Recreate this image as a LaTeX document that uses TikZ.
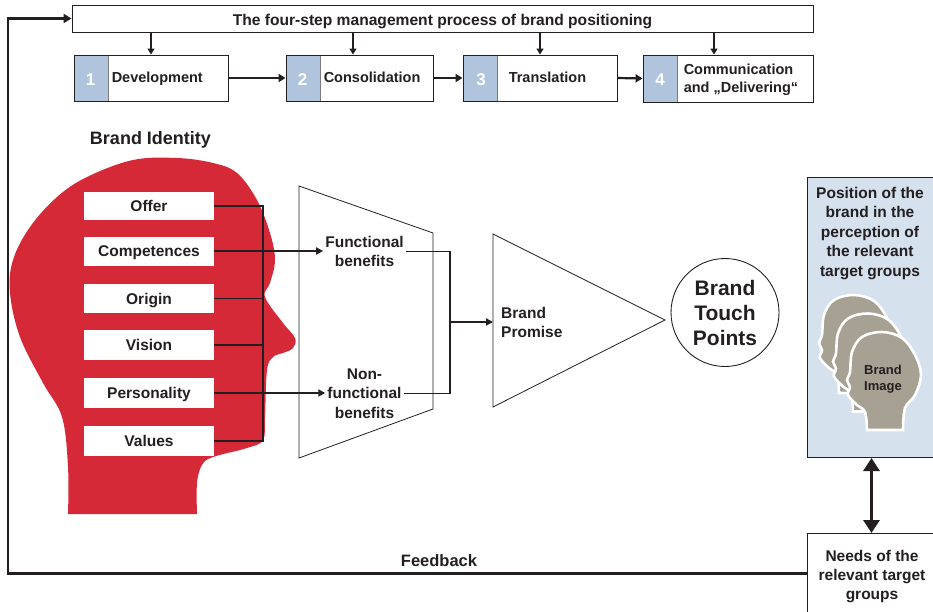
\documentclass[tikz,border=0pt]{standalone}
\usepackage{fontspec}
\setmainfont{Liberation Sans}
\usetikzlibrary{arrows.meta,calc}

\definecolor{ink}{RGB}{35,31,32}
\definecolor{headred}{RGB}{214,41,56}
\definecolor{stepblue}{RGB}{176,196,222}
\definecolor{panelblue}{RGB}{214,225,238}
\definecolor{headgrey}{RGB}{166,161,146}

\begin{document}
\begin{tikzpicture}[x=1pt,y=-1pt,
  every node/.style={text=ink},
  lbl/.style={font=\fontsize{15.5}{19}\selectfont\bfseries, align=center, inner sep=2pt},
  frame/.style={draw=ink, line width=0.9pt},
  thinframe/.style={draw=ink, line width=0.8pt},
  stepbox/.style={draw=ink, line width=0.9pt, fill=white, minimum height=46pt,
    path picture={
      \fill[stepblue] (path picture bounding box.north west) rectangle
        ([xshift=34pt]path picture bounding box.south west);
      \draw[ink!60, line width=0.8pt] ([xshift=34pt]path picture bounding box.north west)
        -- ([xshift=34pt]path picture bounding box.south west);}},
  stepnum/.style={font=\fontsize{17}{20}\selectfont\bfseries, text=white,
    text height=12.2pt, text depth=0pt},
  steplbl/.style={font=\fontsize{14.5}{17.5}\selectfont\bfseries, align=left, inner sep=0pt},
  idbox/.style={fill=white, minimum width=130pt, minimum height=28pt, inner sep=0pt,
    text height=11.1pt, text depth=0pt, font=\fontsize{15.5}{18}\selectfont\bfseries},
  downarr/.style={draw=ink, line width=1.8pt, -{Triangle[length=6pt,width=7pt]}},
  steparr/.style={draw=ink, line width=2.2pt, -{Triangle[length=7pt,width=8pt]}},
  busline/.style={draw=ink, line width=1.8pt},
  busarr/.style={draw=ink, line width=1.8pt, -{Triangle[length=7pt,width=7pt]}},
  fbline/.style={draw=ink, line width=2.8pt, -{Triangle[length=8pt,width=9pt]}},
  dblarr/.style={draw=ink, line width=3pt, {Triangle[length=13pt,width=16pt]}-{Triangle[length=13pt,width=16pt]}},
  headshape/.pic={
    \filldraw[fill=headgrey, draw=white, line width=2.6pt]
      plot[smooth, tension=0.6] coordinates {(-16,50) (-18,32) (-26,25) (-35,15) (-33,7)
        (-36,0) (-33,-8) (-31,-28) (-21,-43) (-1,-48) (19,-42) (32,-25) (38,-5)
        (32,15) (22,28) (20,50)} -- cycle;}
]
\useasboundingbox (0,0) rectangle (933,612);
\clip (0,0) rectangle (933,612);

% ---- management process header and steps
\node[frame, minimum width=741pt, minimum height=27pt, inner sep=0pt,
  text height=15pt, text depth=0pt,
  font=\fontsize{15.6}{18}\selectfont\bfseries] (title) at (442.5,18.5)
  {The four-step management process of brand positioning};

\node[stepbox, minimum width=154pt] (s1) at (151,78) {};
\node[stepbox, minimum width=147pt] (s2) at (359.5,78) {};
\node[stepbox, minimum width=154pt] (s3) at (540,78) {};
\node[stepbox, minimum width=170pt, minimum height=47pt] (s4) at (728,78.5) {};

\node[stepnum] (n1) at ($(s1.west)+(17,1)$) {1};
\node[stepnum] (n2) at ($(s2.west)+(17,1)$) {2};
\node[stepnum] (n3) at ($(s3.west)+(18.5,1)$) {3};
\node[stepnum] (n4) at ($(s4.west)+(17.5,1)$) {4};

\node[steplbl, anchor=base west] (l1) at ($(s1.west)+(38,5)$) {Development};
\node[steplbl, anchor=base west] (l2) at ($(s2.west)+(38,5)$) {Consolidation};
\node[steplbl, anchor=base west] (l3) at ($(s3.west)+(46,5)$) {Translation};
\node[steplbl, anchor=west] (l4) at ($(s4.west)+(41,1.5)$) {Communication\\and „Delivering“};

\draw[downarr] (title.south -| s1.north) -- (s1.north);
\draw[downarr] ([xshift=-6.5pt]s2.north |- title.south) -- ([xshift=-6.5pt]s2.north);
\draw[downarr] (title.south -| s3.north) -- (s3.north);
\draw[downarr] ([xshift=-14pt]s4.north |- title.south) -- ([xshift=-14pt]s4.north);

\draw[steparr] (s1.east) -- (s2.west);
\draw[steparr] (s2.east) -- (s3.west);
\draw[steparr] (s3.east) -- (s4.west);

% ---- brand identity head
\node[font=\fontsize{18}{21}\selectfont\bfseries, anchor=base] (identity) at (150.5,145) {Brand Identity};

\fill[headred] plot[smooth, tension=0.6] coordinates {
  (68,514) (68,467) (62,417) (43,383) (20,337) (10,293) (13,260) (30,227)
  (57,197) (87,177) (133,160) (177,158) (213,163) (237,173) (257,200)
  (270,233) (275,260) (270,283) (265,297) (283,323) (295,338) (293,348)
  (283,353) (273,357) (267,370) (265,417) (263,440) (247,448) (213,457)
  (202,465) (197,483) (197,514)} -- cycle;

\node[idbox] (offer) at (149,206) {Offer};
\node[idbox, minimum height=29pt] (comp) at (149,251) {Competences};
\node[idbox, minimum height=29pt] (origin) at (149,298.5) {Origin};
\node[idbox, minimum height=30pt] (vision) at (149,345) {Vision};
\node[idbox, minimum height=30pt] (person) at (149,393) {Personality};
\node[idbox, minimum height=30pt] (values) at (149,441) {Values};

% ---- benefits funnel
\coordinate (tz1) at (299,186);
\coordinate (tz2) at (433,233);
\coordinate (tz3) at (433,409);
\coordinate (tz4) at (299,458);
\draw[thinframe] (tz1) -- (tz2) -- (tz3) -- (tz4) -- cycle;

\node[lbl] (func) at (364.5,251.5) {Functional\\benefits};
\node[lbl, font=\fontsize{15.5}{19.5}\selectfont\bfseries] (nonfunc) at (364.5,393.5) {Non-\\functional\\benefits};

\coordinate (bus) at (263,0);
\draw[busline] (offer.east) -- (offer.east -| bus) -- (values.east -| bus) -- (values.east);
\draw[busline] (origin.east) -- (origin.east -| bus);
\draw[busline] (vision.east) -- (vision.east -| bus);
\draw[busarr] (comp.east) -- (comp.east -| func.west);
\draw[busarr] (person.east) -- (person.east -| nonfunc.west);

% ---- brand promise
\coordinate (join) at (450,322);
\coordinate (pa) at (493,234);
\coordinate (pb) at (665,320);
\coordinate (pc) at (493,407);
\draw[thinframe] (pa) -- (pb) -- (pc) -- cycle;
\draw[busline] (func.east) -| (join);
\draw[busline] (nonfunc.east) -| (join);
\draw[busarr] (join) -- (join -| pa);
\node[lbl, align=left, anchor=west] (promise) at (499,322.5) {Brand\\Promise};

\node[draw=ink, line width=0.9pt, circle, minimum size=108pt, inner sep=0pt,
  font=\fontsize{21}{25}\selectfont\bfseries, align=center] (btp) at (725,312.5)
  {Brand\\Touch\\Points};

% ---- perception panel
\node[draw=ink, fill=panelblue, line width=1pt, minimum width=128pt,
  minimum height=280pt, anchor=north west] (panel) at (807,177) {};
\node[lbl, font=\fontsize{15.5}{19.5}\selectfont\bfseries] (ptext) at (870,233.5)
  {Position of the\\brand in the\\perception of\\the relevant\\target groups};

\pic at (855,343) {headshape};
\pic at (869,361.5) {headshape};
\pic at (883,380) {headshape};
\node[font=\fontsize{13}{16}\selectfont\bfseries, align=center] (image) at (883,379) {Brand\\Image};

% ---- needs box and feedback loop
\node[draw=ink, fill=white, line width=1pt, minimum width=128pt,
  minimum height=80pt, anchor=north west] (needs) at (807,533) {};
\node[lbl] (ntext) at (872,577) {Needs of the\\relevant target\\groups};

\draw[dblarr] (panel.south) -- (needs.north);

\coordinate (fbx) at (8,0);
\draw[fbline] (needs.west) -- (needs.west -| fbx) |- (title.west);
\node[font=\fontsize{16.5}{19}\selectfont\bfseries, anchor=base] (fb) at (439,566.5) {Feedback};
\end{tikzpicture}
\end{document}
